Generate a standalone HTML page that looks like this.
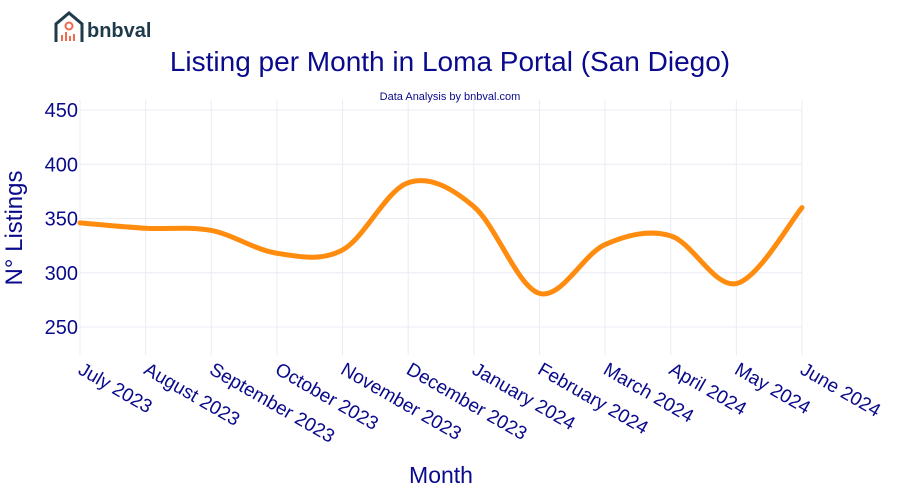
<!DOCTYPE html>
<html><head><meta charset="utf-8"><style>
body{margin:0;background:#fff;}
svg{display:block;font-family:"Liberation Sans",Arial,sans-serif;}
</style></head><body>
<svg width="900" height="500" viewBox="0 0 900 500">
<g>
<path d="M56 42 V24 L69 13 L82 24 V42" fill="none" stroke="#1f3a4a" stroke-width="3"/>
<circle cx="69" cy="26" r="3.5" fill="none" stroke="#f26b4f" stroke-width="2"/>
<rect x="61" y="35" width="2" height="6" fill="#f26b4f"/><rect x="65" y="32" width="2" height="9" fill="#f26b4f"/><rect x="69" y="36" width="2" height="5" fill="#f26b4f"/><rect x="73" y="34" width="2" height="7" fill="#f26b4f"/>
<text x="87" y="37" font-size="20" font-weight="bold" fill="#1f3a4a">bnbval</text>
</g>
<text x="450" y="71" text-anchor="middle" font-size="28" fill="#0a0a8c">Listing per Month in Loma Portal (San Diego)</text>
<text x="450" y="100" text-anchor="middle" font-size="11" fill="#0a0a8c">Data Analysis by bnbval.com</text>
<g id="grid"></g>
<g id="yt"></g>
<g id="xt"></g>
<path id="line" fill="none" stroke="#ff8c0f" stroke-width="5" stroke-linecap="round"/>
<text transform="translate(22,228) rotate(-90)" text-anchor="middle" font-size="24" fill="#0a0a8c">N° Listings</text>
<text x="441" y="483" text-anchor="middle" font-size="23" fill="#0a0a8c">Month</text>
</svg>
<script>
const categories=["July 2023","August 2023","September 2023","October 2023","November 2023","December 2023","January 2024","February 2024","March 2024","April 2024","May 2024","June 2024"];
const listings=[346,341,339,318,321,383,361,281,326,334,290,360];
const yTicks=[250,300,350,400,450];
const NS="http://www.w3.org/2000/svg";
const x0=80,x1=802,yTop=100,yBot=355;
const X=i=>x0+i*(x1-x0)/(categories.length-1);
const Y=v=>327-(v-250)*(327-110)/200;
const grid=document.getElementById('grid'),yt=document.getElementById('yt'),xt=document.getElementById('xt');
yTicks.forEach(t=>{
 const l=document.createElementNS(NS,'line');
 
 
 l.setAttribute('x1',x0);l.setAttribute('x2',x1);l.setAttribute('y1',Y(t));l.setAttribute('y2',Y(t));
 l.setAttribute('stroke','#e8ecf3');grid.appendChild(l);
 const tx=document.createElementNS(NS,'text');
 
 
 tx.setAttribute('x',x0-2);tx.setAttribute('y',Y(t)+7);tx.setAttribute('text-anchor','end');
 tx.setAttribute('font-size','20');tx.setAttribute('fill','#0a0a8c');tx.textContent=t;yt.appendChild(tx);
});
categories.forEach((c,i)=>{
 const l=document.createElementNS(NS,'line');
 
 
 l.setAttribute('x1',X(i));l.setAttribute('x2',X(i));l.setAttribute('y1',yTop);l.setAttribute('y2',yBot);
 l.setAttribute('stroke','#e8ecf3');grid.appendChild(l);
 const tx=document.createElementNS(NS,'text');
 
 
 tx.setAttribute('transform',`translate(${X(i)-3},${373}) rotate(30)`);
 tx.setAttribute('font-size','19');tx.setAttribute('fill','#0a0a8c');tx.textContent=c;xt.appendChild(tx);
});
const P=listings.map((v,i)=>[X(i),Y(v)]);
let d=`M${P[0][0]},${P[0][1]}`;
for(let i=0;i<P.length-1;i++){
 const p0=P[i-1]||P[i],p1=P[i],p2=P[i+1],p3=P[i+2]||P[i+1],k=6;
 d+=` C${p1[0]+(p2[0]-p0[0])/k},${p1[1]+(p2[1]-p0[1])/k} ${p2[0]-(p3[0]-p1[0])/k},${p2[1]-(p3[1]-p1[1])/k} ${p2[0]},${p2[1]}`;
}
document.getElementById('line').setAttribute('d',d);
</script>
</body></html>
